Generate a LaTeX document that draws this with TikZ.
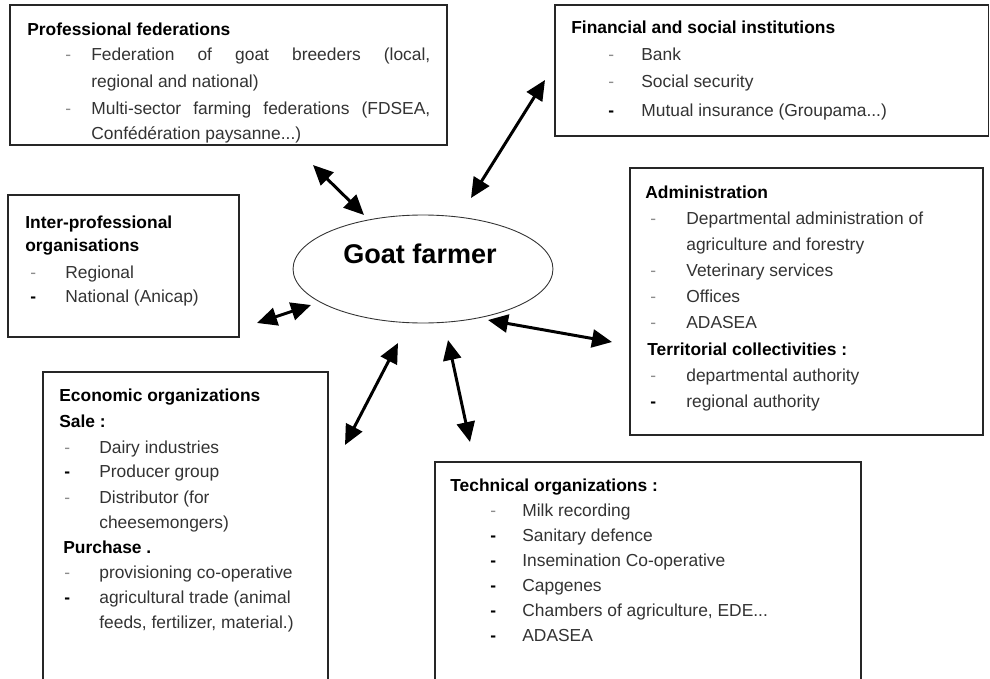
\documentclass[tikz,border=0pt]{standalone}
\usepackage{fontspec}
\setmainfont{Liberation Sans}
\usetikzlibrary{arrows.meta,shapes.geometric,fit}
\begin{document}
\begin{tikzpicture}[x=0.02cm,y=-0.02cm,
  box/.style={draw=black!85, line width=0.6pt, inner sep=0pt},
  head/.style={anchor=base west, inner sep=0pt, font=\fontsize{9.9}{12}\selectfont\bfseries},
  item/.style={anchor=base west, inner sep=0pt, text=black!80, font=\fontsize{9.9}{12}\selectfont},
  dashg/.style={anchor=base west, inner sep=0pt, text=black!45, font=\fontsize{9.9}{12}\selectfont},
  dashb/.style={anchor=base west, inner sep=0pt, text=black, font=\fontsize{9.9}{12}\selectfont\bfseries},
  link/.style={line width=1.7pt, {Triangle[length=4mm,width=3.6mm]}-{Triangle[length=4mm,width=3.6mm]}}
]
\fill[white] (0,0) rectangle (990,679);
\useasboundingbox (0,0) rectangle (990,679);

% ---------- boxes ----------
\coordinate (fedA) at (10,5);   \coordinate (fedB) at (447,145);
\node[box, fit=(fedA)(fedB)] (fed) {};
\coordinate (finA) at (555,5);  \coordinate (finB) at (988.5,136);
\node[box, fit=(finA)(finB)] (fin) {};
\coordinate (intA) at (8,195);  \coordinate (intB) at (239,337);
\node[box, fit=(intA)(intB)] (inter) {};
\coordinate (admA) at (630,168); \coordinate (admB) at (983,435);
\node[box, fit=(admA)(admB)] (adm) {};
\coordinate (ecoA) at (43,372); \coordinate (ecoB) at (328,686);
\node[box, fit=(ecoA)(ecoB)] (eco) {};
\coordinate (tecA) at (435,462); \coordinate (tecB) at (861,686);
\node[box, fit=(tecA)(tecB)] (tec) {};

% ---------- centre ----------
\node[draw=black!80, line width=0.5pt, ellipse, minimum width=5.2cm, minimum height=2.16cm, inner sep=0pt] (farmer) at (423,269) {};
\node[anchor=base, inner sep=0pt, font=\fontsize{15.4}{18}\selectfont\bfseries] (farmerlabel) at (420,263) {Goat farmer};

% ---------- Professional federations ----------
\node[head] (fedh) at (27,36) {Professional federations};
\node[dashg] (fedd1) at (65,61) {-};
\node[item] (fed1) at (91,61) {\makebox[6.78cm][s]{Federation of goat breeders (local,}};
\node[item] (fed2) at (91,88) {regional and national)};
\node[dashg] (fedd3) at (65,114) {-};
\node[item] (fed3) at (91,114) {\makebox[6.78cm][s]{Multi-sector farming federations (FDSEA,}};
\node[item] (fed4) at (91,139) {Confédération paysanne...)};

% ---------- Financial and social institutions ----------
\node[head] (finh) at (571,34) {Financial and social institutions};
\node[dashg] (find1) at (608,61) {-};
\node[item] (fin1) at (641,61) {Bank};
\node[dashg] (find2) at (608,88) {-};
\node[item] (fin2) at (641,88) {Social security};
\node[dashb] (find3) at (608,116) {-};
\node[item] (fin3) at (641,116) {Mutual insurance (Groupama...)};

% ---------- Inter-professional organisations ----------
\node[head] (inth1) at (25,228) {Inter-professional};
\node[head] (inth2) at (25,251) {organisations};
\node[dashg] (intd1) at (30,278) {-};
\node[item] (int1) at (65,278) {Regional};
\node[dashb] (intd2) at (30,302) {-};
\node[item] (int2) at (65,302) {National (Anicap)};

% ---------- Administration ----------
\node[head] (admh) at (645,198) {Administration};
\node[dashg] (admd1) at (650,224) {-};
\node[item] (adm1) at (686,224) {Departmental administration of};
\node[item] (adm2) at (686,250) {agriculture and forestry};
\node[dashg] (admd3) at (650,276) {-};
\node[item] (adm3) at (686,276) {Veterinary services};
\node[dashg] (admd4) at (650,302) {-};
\node[item] (adm4) at (686,302) {Offices};
\node[dashg] (admd5) at (650,328) {-};
\node[item] (adm5) at (686,328) {ADASEA};
\node[head] (admh2) at (647,355) {Territorial collectivities :};
\node[dashg] (admd6) at (650,381) {-};
\node[item] (adm6) at (686,381) {departmental authority};
\node[dashb] (admd7) at (650,407) {-};
\node[item] (adm7) at (686,407) {regional authority};

% ---------- Economic organizations ----------
\node[head] (ecoh) at (59,401) {Economic organizations};
\node[head] (ecoh2) at (59,427) {Sale :};
\node[dashg] (ecod1) at (64,453) {-};
\node[item] (eco1) at (99,453) {Dairy industries};
\node[dashb] (ecod2) at (64,477) {-};
\node[item] (eco2) at (99,477) {Producer group};
\node[dashg] (ecod3) at (64,503) {-};
\node[item] (eco3) at (99,503) {Distributor (for};
\node[item] (eco4) at (99,528) {cheesemongers)};
\node[head] (ecoh3) at (63,553) {Purchase .};
\node[dashg] (ecod5) at (64,578) {-};
\node[item] (eco5) at (99,578) {provisioning co-operative};
\node[dashb] (ecod6) at (64,603) {-};
\node[item] (eco6) at (99,603) {agricultural trade (animal};
\node[item] (eco7) at (99,628) {feeds, fertilizer, material.)};

% ---------- Technical organizations ----------
\node[head] (tech) at (450,491) {Technical organizations :};
\node[dashg] (tecd1) at (490,516) {-};
\node[item] (tec1) at (522,516) {Milk recording};
\node[dashb] (tecd2) at (490,541) {-};
\node[item] (tec2) at (522,541) {Sanitary defence};
\node[dashb] (tecd3) at (490,566) {-};
\node[item] (tec3) at (522,566) {Insemination Co-operative};
\node[dashb] (tecd4) at (490,591) {-};
\node[item] (tec4) at (522,591) {Capgenes};
\node[dashb] (tecd5) at (490,616) {-};
\node[item] (tec5) at (522,616) {Chambers of agriculture, EDE...};
\node[dashb] (tecd6) at (490,641) {-};
\node[item] (tec6) at (522,641) {ADASEA};

% ---------- connectors ----------
\coordinate (a1s) at (313,165); \coordinate (a1e) at (364,215);
\coordinate (a2s) at (545,80);  \coordinate (a2e) at (471,198);
\coordinate (a3s) at (257,323); \coordinate (a3e) at (311,305);
\coordinate (a4s) at (488,320); \coordinate (a4e) at (612,342);
\coordinate (a5s) at (345,445); \coordinate (a5e) at (398,343);
\coordinate (a6s) at (448,340); \coordinate (a6e) at (470,442);
\draw[link] (a1s) -- (a1e);
\draw[link] (a2s) -- (a2e);
\draw[link] (a3s) -- (a3e);
\draw[link] (a4s) -- (a4e);
\draw[link] (a5s) -- (a5e);
\draw[link] (a6s) -- (a6e);
\end{tikzpicture}
\end{document}
